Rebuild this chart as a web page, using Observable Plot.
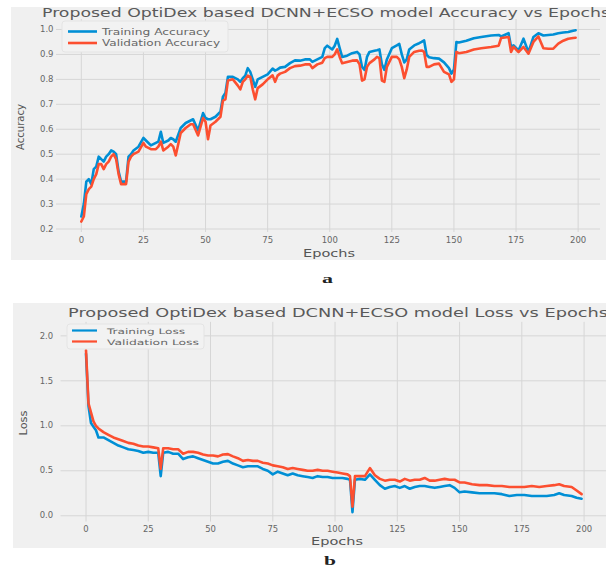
<!DOCTYPE html>
<html>
<head>
<meta charset="utf-8">
<script src="https://cdn.jsdelivr.net/npm/d3@7"></script>
<script src="https://cdn.jsdelivr.net/npm/@observablehq/plot@0.6"></script>
<style>
html, body { margin: 0; padding: 0; background: #ffffff; }
#root { position: relative; width: 606px; height: 569px; overflow: hidden; font-family: "DejaVu Sans", sans-serif; }
.panel { position: absolute; background: #f0f0f0; }
.chart { position: absolute; left: 0; }
#overlay { position: absolute; left: 0; top: 0; }
</style>
</head>
<body>
<div id="root">
  <div class="panel" style="left:11px;top:7px;width:595px;height:253px;"></div>
  <div class="panel" style="left:13px;top:303px;width:593px;height:245px;"></div>
  <div class="chart" id="acc" style="top:0px;"></div>
  <div class="chart" id="loss" style="top:300px;"></div>
</div>
<script>
// ---------------- data ----------------
const accTitle = "Proposed OptiDex based DCNN+ECSO model Accuracy vs Epochs";
const lossTitle = "Proposed OptiDex based DCNN+ECSO model Loss vs Epochs";
const accSeries = ["Training Accuracy", "Validation Accuracy"];
const lossSeries = ["Training Loss", "Validation Loss"];
const xLabel = "Epochs";
const accLabel = "Accuracy";
const lossLabel = "Loss";
const panelTags = ["a", "b"];
const epochTicks = [0, 25, 50, 75, 100, 125, 150, 175, 200];
const accTicks = [0.2, 0.3, 0.4, 0.5, 0.6, 0.7, 0.8, 0.9, 1.0];
const lossTicks = [0.0, 0.5, 1.0, 1.5, 2.0];

const accEpochs = [0,1,2,3,4,5,6,7,8,9,10,11,12,13,14,15,16,17,18,19,20,21,23,25,26,28,30,31,32,33,35,36,37,38,40,42,44,45,47,48,49,50,51,52,54,56,57,58,59,61,63,64,65,66,67,68,69,70,71,73,75,77,78,79,80,82,84,86,88,90,92,93,95,97,98,99,101,102,103,104,105,107,109,111,112,113,114,115,116,118,119,120,121,122,123,125,127,128,129,130,131,132,134,136,137,138,139,140,142,144,146,148,149,150,151,152,155,158,161,165,168,169,172,173,174,176,178,180,182,184,186,188,190,192,194,196,198,199];
const trainAcc = [0.25,0.30,0.39,0.40,0.38,0.44,0.45,0.49,0.48,0.47,0.49,0.50,0.515,0.51,0.50,0.43,0.39,0.39,0.39,0.49,0.50,0.515,0.53,0.565,0.555,0.535,0.545,0.55,0.59,0.545,0.555,0.565,0.56,0.55,0.605,0.625,0.635,0.64,0.595,0.63,0.665,0.645,0.64,0.64,0.65,0.67,0.73,0.745,0.81,0.81,0.80,0.79,0.805,0.815,0.845,0.83,0.80,0.77,0.80,0.81,0.82,0.843,0.835,0.84,0.847,0.85,0.865,0.876,0.875,0.88,0.88,0.87,0.88,0.89,0.925,0.935,0.92,0.935,0.962,0.925,0.89,0.895,0.905,0.91,0.90,0.85,0.838,0.89,0.91,0.915,0.917,0.92,0.86,0.838,0.88,0.925,0.936,0.942,0.90,0.868,0.88,0.92,0.936,0.945,0.95,0.956,0.898,0.889,0.885,0.883,0.868,0.845,0.823,0.84,0.95,0.948,0.955,0.965,0.97,0.976,0.978,0.972,0.985,0.93,0.936,0.916,0.963,0.909,0.97,0.985,0.976,0.978,0.98,0.985,0.988,0.99,0.995,0.997];
const valAcc = [0.23,0.25,0.34,0.36,0.37,0.40,0.42,0.46,0.46,0.44,0.46,0.47,0.49,0.50,0.48,0.42,0.38,0.38,0.38,0.47,0.49,0.50,0.51,0.545,0.53,0.52,0.52,0.53,0.55,0.515,0.53,0.54,0.53,0.495,0.585,0.605,0.62,0.62,0.575,0.61,0.645,0.63,0.56,0.615,0.63,0.65,0.715,0.72,0.795,0.80,0.775,0.76,0.79,0.80,0.815,0.81,0.76,0.72,0.765,0.78,0.80,0.816,0.79,0.815,0.823,0.83,0.845,0.853,0.855,0.86,0.86,0.845,0.86,0.867,0.885,0.89,0.89,0.90,0.92,0.89,0.865,0.87,0.875,0.876,0.86,0.795,0.80,0.85,0.865,0.88,0.89,0.885,0.795,0.79,0.85,0.89,0.89,0.88,0.85,0.805,0.84,0.89,0.91,0.915,0.916,0.91,0.85,0.85,0.86,0.863,0.83,0.82,0.79,0.80,0.91,0.905,0.91,0.92,0.925,0.93,0.935,0.966,0.97,0.91,0.93,0.909,0.93,0.903,0.95,0.972,0.925,0.923,0.923,0.943,0.955,0.963,0.966,0.967];

const lossEpochs = [0,1,2,3,4,5,7,9,11,13,15,17,19,21,23,25,27,29,30,31,33,35,37,39,41,43,45,47,49,51,53,55,57,59,61,63,65,67,69,71,73,75,77,79,81,83,85,87,89,91,93,95,97,99,101,103,105,106,107,108,110,112,114,116,118,120,122,124,126,128,130,132,134,136,138,140,142,144,146,148,150,152,155,158,161,164,167,170,173,176,179,182,185,188,190,192,195,197,199];
const trainLoss = [1.80,1.22,1.03,0.99,0.95,0.87,0.87,0.84,0.81,0.78,0.76,0.74,0.73,0.72,0.70,0.71,0.70,0.70,0.44,0.70,0.71,0.69,0.69,0.63,0.65,0.66,0.64,0.62,0.60,0.58,0.58,0.60,0.61,0.58,0.56,0.54,0.55,0.55,0.55,0.52,0.50,0.46,0.49,0.47,0.45,0.47,0.45,0.44,0.43,0.42,0.44,0.43,0.43,0.42,0.42,0.42,0.41,0.40,0.04,0.40,0.41,0.40,0.46,0.40,0.34,0.30,0.32,0.33,0.31,0.33,0.30,0.32,0.33,0.33,0.32,0.31,0.32,0.33,0.34,0.31,0.26,0.27,0.26,0.25,0.25,0.25,0.24,0.22,0.23,0.23,0.22,0.22,0.22,0.23,0.25,0.23,0.22,0.20,0.19];
const valLoss = [1.84,1.25,1.15,1.05,1.00,0.97,0.93,0.90,0.87,0.85,0.83,0.81,0.80,0.78,0.77,0.77,0.76,0.75,0.52,0.75,0.75,0.74,0.74,0.69,0.71,0.71,0.70,0.68,0.67,0.67,0.66,0.68,0.685,0.66,0.64,0.61,0.62,0.61,0.61,0.59,0.58,0.56,0.55,0.54,0.52,0.53,0.52,0.51,0.50,0.50,0.51,0.50,0.50,0.49,0.48,0.47,0.46,0.44,0.10,0.44,0.44,0.44,0.53,0.45,0.41,0.39,0.40,0.40,0.38,0.41,0.39,0.40,0.40,0.42,0.39,0.39,0.40,0.41,0.40,0.40,0.37,0.37,0.35,0.34,0.34,0.33,0.33,0.32,0.32,0.32,0.33,0.32,0.33,0.34,0.35,0.33,0.32,0.28,0.24];

// ---------------- styling ----------------
const colors = ["#008fd5", "#fc4f30"];
const gridColor = "#d6d6d6";
const tickColor = "#666666";

function rows(epochs, a, b, names) {
  return [
    ...epochs.map((e, i) => ({epoch: e, value: a[i], series: names[0]})),
    ...epochs.map((e, i) => ({epoch: e, value: b[i], series: names[1]}))
  ];
}

const accPlot = Plot.plot({
  width: 606, height: 260,
  marginLeft: 56, marginRight: 6, marginTop: 19, marginBottom: 28,
  style: {background: "transparent", fontFamily: "DejaVu Sans", fontSize: "8.5px", color: tickColor, overflow: "visible"},
  x: {domain: [-10, 209], ticks: epochTicks, tickSize: 0, tickPadding: 4, label: null},
  y: {domain: [0.186, 1.04], ticks: accTicks, tickSize: 0, tickPadding: 3, label: null, tickFormat: d3.format(".1f")},
  color: {domain: accSeries, range: colors},
  marks: [
    Plot.ruleX(epochTicks, {stroke: gridColor, strokeWidth: 1}),
    Plot.ruleY(accTicks, {stroke: gridColor, strokeWidth: 1}),
    Plot.line(rows(accEpochs, trainAcc, valAcc, accSeries), {x: "epoch", y: "value", z: "series", stroke: "series", strokeWidth: 2.6, strokeLinejoin: "round", strokeLinecap: "round"})
  ]
});
document.getElementById("acc").appendChild(accPlot);

const lossPlot = Plot.plot({
  width: 610, height: 250,
  marginLeft: 61, marginRight: 0, marginTop: 22, marginBottom: 27,
  style: {background: "transparent", fontFamily: "DejaVu Sans", fontSize: "8.5px", color: tickColor, overflow: "visible"},
  x: {domain: [-10, 209], ticks: epochTicks, tickSize: 0, tickPadding: 4, label: null},
  y: {domain: [-0.07, 2.15], ticks: lossTicks, tickSize: 0, tickPadding: 8, label: null, tickFormat: d3.format(".1f")},
  color: {domain: lossSeries, range: colors},
  marks: [
    Plot.ruleX(epochTicks, {stroke: gridColor, strokeWidth: 1}),
    Plot.ruleY(lossTicks, {stroke: gridColor, strokeWidth: 1}),
    Plot.line(rows(lossEpochs, trainLoss, valLoss, lossSeries), {x: "epoch", y: "value", z: "series", stroke: "series", strokeWidth: 2.6, strokeLinejoin: "round", strokeLinecap: "round"})
  ]
});
document.getElementById("loss").appendChild(lossPlot);

// ---------------- overlay: titles, legends, axis labels ----------------
const NS = "http://www.w3.org/2000/svg";
const overlay = document.createElementNS(NS, "svg");
overlay.setAttribute("id", "overlay");
overlay.setAttribute("width", 606);
overlay.setAttribute("height", 569);
document.getElementById("root").appendChild(overlay);

function el(name, attrs, text) {
  const e = document.createElementNS(NS, name);
  for (const k in attrs) e.setAttribute(k, attrs[k]);
  if (text != null) e.textContent = text;
  overlay.appendChild(e);
  return e;
}
function txt(s, x, y, size, len, opts = {}) {
  const a = {x, y, "font-size": size, fill: opts.fill || "#555555", "font-family": opts.family || "DejaVu Sans"};
  if (len) { a.textLength = len; a.lengthAdjust = "spacingAndGlyphs"; }
  if (opts.anchor) a["text-anchor"] = opts.anchor;
  if (opts.weight) a["font-weight"] = opts.weight;
  if (opts.transform) a.transform = opts.transform;
  return el("text", a, s);
}

// titles
txt(accTitle, 42, 17, 11.5, 568, {fill: "#5a5a5a"});
txt(lossTitle, 68, 317, 12, 540, {fill: "#5a5a5a"});

// legends
el("rect", {x: 62, y: 21, width: 166, height: 31, rx: 3, fill: "#f2f2f2", stroke: "#e4e4e4"});
el("line", {x1: 68, x2: 97, y1: 31.5, y2: 31.5, stroke: colors[0], "stroke-width": 2.6});
el("line", {x1: 68, x2: 97, y1: 43, y2: 43, stroke: colors[1], "stroke-width": 2.6});
txt(accSeries[0], 102, 34.5, 8, 108, {fill: "#666"});
txt(accSeries[1], 102, 46, 8, 118, {fill: "#666"});

el("rect", {x: 67, y: 324, width: 137, height: 25, rx: 3, fill: "#f2f2f2", stroke: "#e4e4e4"});
el("line", {x1: 72, x2: 97, y1: 330.5, y2: 330.5, stroke: colors[0], "stroke-width": 2.2});
el("line", {x1: 72, x2: 97, y1: 341.5, y2: 341.5, stroke: colors[1], "stroke-width": 2.2});
txt(lossSeries[0], 107, 333.5, 7.5, 78, {fill: "#666"});
txt(lossSeries[1], 107, 344.5, 7.5, 92, {fill: "#666"});

// axis labels
txt(xLabel, 303, 257, 10, 52);
txt(xLabel, 311, 545, 10, 52);
txt(accLabel, 0, 0, 10, 46, {anchor: "middle", transform: "translate(24,127) rotate(-90)"});
txt(lossLabel, 0, 0, 10, 25, {anchor: "middle", transform: "translate(27,423) rotate(-90)"});

// panel tags
txt(panelTags[0], 322, 283, 13, 11, {family: "Liberation Serif", weight: "bold", fill: "#222"});
txt(panelTags[1], 324, 565, 12, 12, {family: "Liberation Serif", weight: "bold", fill: "#222"});
</script>
</body>
</html>
